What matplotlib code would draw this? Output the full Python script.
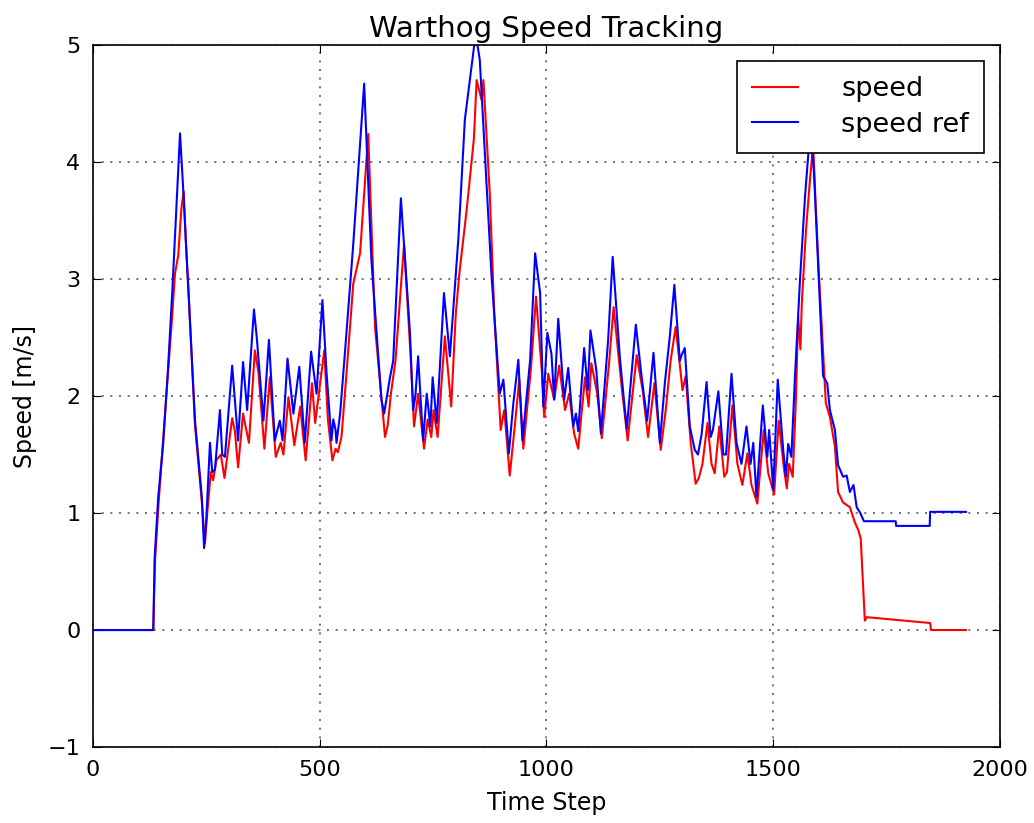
import numpy as np
import matplotlib
matplotlib.use("Agg")
import matplotlib.pyplot as plt

# measured speed (time step, m/s)
t_speed = [0, 133, 137, 145, 162, 173, 181, 188, 195, 200, 205, 212, 225, 240, 247, 252, 260, 265, 272, 282,
           290, 300, 307, 313, 320, 331, 336, 344, 357, 365, 378, 390, 403, 414, 420, 431, 444, 457, 469, 483,
           490, 510, 518, 528, 535, 540, 548, 558, 565, 574, 589, 607, 622, 644, 650, 657, 667, 686, 700, 708,
           717, 730, 738, 746, 751, 760, 776, 790, 800, 808, 824, 840, 846, 857, 861, 875, 885, 899, 907, 919,
           929, 940, 949, 966, 977, 990, 995, 1004, 1017, 1028, 1041, 1050, 1061, 1070, 1085, 1093, 1099, 1112,
           1122, 1138, 1148, 1165, 1179, 1199, 1212, 1224, 1238, 1252, 1263, 1274, 1285, 1300, 1307, 1318, 1329,
           1336, 1344, 1355, 1364, 1371, 1381, 1392, 1398, 1410, 1421, 1432, 1443, 1452, 1465, 1479, 1489, 1502,
           1512, 1524, 1530, 1535, 1543, 1550, 1555, 1560, 1563, 1572, 1580, 1588, 1594, 1600, 1616, 1625, 1636,
           1643, 1654, 1669, 1680, 1688, 1693, 1702, 1706, 1846, 1848, 1925]
speed = [0, 0, 0.6, 1.1, 2.02, 2.59, 3.05, 3.2, 3.6, 3.75, 3.3, 2.8, 1.75, 1.1, 0.74, 1.0, 1.35, 1.28, 1.45, 1.5,
         1.3, 1.6, 1.81, 1.7, 1.39, 1.85, 1.75, 1.6, 2.39, 2.2, 1.55, 2.16, 1.48, 1.6, 1.5, 1.99, 1.58, 1.91, 1.45, 2.11,
         1.77, 2.39, 1.8, 1.45, 1.55, 1.52, 1.65, 2.14, 2.5, 2.96, 3.22, 4.24, 2.59, 1.65, 1.75, 2.02, 2.3, 3.3, 2.37, 1.74,
         2.02, 1.55, 1.8, 1.65, 1.88, 1.65, 2.51, 1.91, 2.7, 3.05, 3.59, 4.2, 4.7, 4.53, 4.7, 3.73, 2.7, 1.71, 1.88, 1.32,
         1.7, 2.14, 1.55, 2.25, 2.85, 2.2, 1.82, 2.19, 1.97, 2.26, 1.88, 2.02, 1.68, 1.55, 2.16, 1.91, 2.28, 2.02,
         1.64, 2.28, 2.76, 2.11, 1.62, 2.35, 2.05, 1.65, 2.11, 1.54, 1.88, 2.31, 2.59, 2.05, 2.17, 1.6, 1.25,
         1.3, 1.42, 1.77, 1.42, 1.34, 1.74, 1.31, 1.35, 1.92, 1.42, 1.24, 1.51, 1.24, 1.08, 1.71, 1.34, 1.16,
         1.79, 1.37, 1.21, 1.42, 1.31, 1.97, 2.68, 2.4, 2.79, 3.4, 3.8, 4.15, 3.6, 3.1, 1.94, 1.82, 1.57,
         1.18, 1.09, 1.05, 0.92, 0.85, 0.78, 0.08, 0.11, 0.06, 0.0, 0.0]

# reference speed (time step, m/s)
t_ref = [0, 133, 136, 144, 155, 165, 175, 185, 192, 200, 210, 225, 240, 245, 250, 258, 263, 269, 280, 285,
         291, 307, 320, 331, 340, 355, 361, 376, 388, 401, 412, 418, 429, 442, 455, 467, 481, 493, 506, 515,
         526, 530, 535, 537, 545, 556, 574, 598, 614, 636, 642, 655, 662, 679, 699, 706, 711, 717, 728, 736,
         744, 749, 758, 774, 787, 806, 820, 844, 853, 879, 897, 905, 917, 927, 938, 947, 964, 975, 986, 993,
         1002, 1011, 1017, 1026, 1039, 1048, 1059, 1065, 1070, 1083, 1091, 1097, 1110, 1120, 1136, 1146, 1162,
         1177, 1197, 1210, 1222, 1236, 1250, 1261, 1272, 1282, 1294, 1298, 1305, 1316, 1327, 1334, 1342, 1353,
         1362, 1367, 1379, 1390, 1396, 1408, 1419, 1430, 1441, 1450, 1456, 1463, 1477, 1487, 1491, 1500, 1510,
         1522, 1528, 1533, 1540, 1548, 1559, 1570, 1582, 1590, 1599, 1610, 1619, 1625, 1636, 1643, 1654, 1662,
         1669, 1677, 1684, 1692, 1700, 1770, 1771, 1845, 1846, 1925]
speed_ref = [0, 0, 0.62, 1.14, 1.6, 2.2, 2.9, 3.7, 4.245, 3.7, 2.93, 1.79, 1.14, 0.7, 0.95, 1.6, 1.35, 1.37, 1.88, 1.5,
             1.48, 2.26, 1.62, 2.29, 1.88, 2.74, 2.51, 1.79, 2.48, 1.62, 1.79, 1.62, 2.32, 1.85, 2.25, 1.6, 2.38, 2.02, 2.82, 2.2,
             1.62, 1.8, 1.71, 1.6, 1.85, 2.39, 3.3, 4.67, 3.16, 1.97, 1.85, 2.16, 2.3, 3.69, 2.54, 1.88, 2.0, 2.34, 1.62, 2.02,
             1.74, 2.16, 1.77, 2.88, 2.34, 3.36, 4.36, 5.1, 4.87, 3.02, 2.02, 2.14, 1.51, 1.94, 2.31, 1.62, 2.31, 3.22, 2.88, 1.91,
             2.54, 2.36, 1.97, 2.66, 1.97, 2.24, 1.74, 1.85, 1.7, 2.41, 2.05, 2.56, 2.22, 1.68, 2.48, 3.19, 2.32,
             1.72, 2.61, 2.16, 1.79, 2.37, 1.6, 2.11, 2.51, 2.95, 2.3, 2.35, 2.41, 1.74, 1.54, 1.5, 1.67, 2.12,
             1.65, 1.71, 2.04, 1.5, 1.5, 2.19, 1.6, 1.42, 1.74, 1.42, 1.6, 1.14, 1.92, 1.48, 1.71, 1.2, 2.14,
             1.54, 1.31, 1.59, 1.48, 2.17, 2.99, 3.7, 4.3, 3.9, 3.13, 2.17, 2.11, 1.88, 1.71, 1.41, 1.31, 1.32,
             1.18, 1.24, 1.05, 1.0, 0.93, 0.93, 0.89, 0.89, 1.01, 1.01]

fig = plt.figure(figsize=(10.34, 8.23), dpi=100)
ax = fig.add_axes([0.0899, 0.0923, 0.8772, 0.8530])

ax.plot(t_speed, speed, "r-", linewidth=1.5, label="speed")
ax.plot(t_ref, speed_ref, "b-", linewidth=1.5, label="speed ref")

ax.set_xlim(0, 2000)
ax.set_ylim(-1, 5)
ax.set_xticks([0, 500, 1000, 1500, 2000])
ax.set_yticks([-1, 0, 1, 2, 3, 4, 5])
ax.tick_params(direction="in", top=True, right=True, labelsize=16, length=6, pad=9)
ax.grid(True, color="0.35", linestyle=(0, (1.2, 4)), linewidth=1.2)
for s in ax.spines.values():
    s.set_linewidth(1.2)

ax.set_title("Warthog Speed Tracking", fontsize=21, pad=6)
ax.set_xlabel("Time Step", fontsize=17, labelpad=8)
ax.set_ylabel("Speed [m/s]", fontsize=17, labelpad=8)

leg = ax.legend(loc="upper right", fontsize=19.5, fancybox=False, framealpha=1,
                edgecolor="k", handlelength=1.7, handletextpad=1.6,
                borderaxespad=0.6, borderpad=0.55, labelspacing=0.35)
leg.get_frame().set_linewidth(1.2)

plt.savefig("out.png", dpi=100)
